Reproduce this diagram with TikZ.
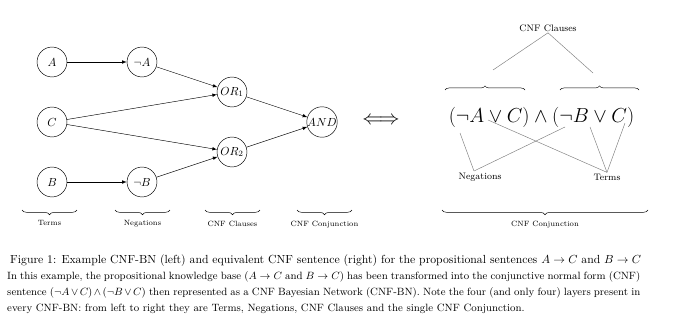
\documentclass[tikz,border=0pt]{standalone}
\usetikzlibrary{decorations.pathreplacing,arrows}
\begin{document}
\begin{tikzpicture}[x=0.853pt,y=-0.853pt,
  var/.style={circle,draw,thin,minimum size=25.5pt,inner sep=0pt},
  arr/.style={-latex,thin},
  bracelow/.style={decorate,decoration={brace,mirror,amplitude=4pt},thin},
  braceup/.style={decorate,decoration={brace,amplitude=3.5pt},thin},
  gline/.style={gray,thin},
  lab/.style={font=\fontsize{6.5}{8}\selectfont,inner sep=1pt},
  rlab/.style={font=\footnotesize,inner sep=1pt},
  txt/.style={anchor=base west,inner sep=0pt},
  ptxt/.style={anchor=base west,inner sep=0pt,font=\fontsize{9}{11}\selectfont}]
\useasboundingbox (0,0) rectangle (680,324);
% left network
\node[var] (A) at (52,62) {$A$};
\node[var] (nA) at (142,62) {$\neg A$};
\node[var] (C) at (52,122) {$C$};
\node[var] (B) at (52,182) {$B$};
\node[var] (nB) at (142,182) {$\neg B$};
\node[var] (OR1) at (232,92) {$OR_1$};
\node[var] (OR2) at (232,152) {$OR_2$};
\node[var] (AND) at (322,122) {$AND$};
\draw[arr] (A) -- (nA);
\draw[arr] (B) -- (nB);
\draw[arr] (nA) -- (OR1);
\draw[arr] (C) -- (OR1);
\draw[arr] (C) -- (OR2);
\draw[arr] (nB) -- (OR2);
\draw[arr] (OR1) -- (AND);
\draw[arr] (OR2) -- (AND);
% left braces
\coordinate (t1) at (22,210); \coordinate (t2) at (77,210);
\coordinate (n1) at (115,210); \coordinate (n2) at (170,210);
\coordinate (c1) at (205,210); \coordinate (c2) at (260,210);
\coordinate (j1) at (297,210); \coordinate (j2) at (352,210);
\draw[bracelow] (t1) -- (t2) node[midway,below=8pt,lab] {Terms};
\draw[bracelow] (n1) -- (n2) node[midway,below=8pt,lab] {Negations};
\draw[bracelow] (c1) -- (c2) node[midway,below=8pt,lab] {CNF Clauses};
\draw[bracelow] (j1) -- (j2) node[midway,below=8pt,lab] {CNF Conjunction};
% equivalence
\node (eq) at (381,121) {\LARGE$\Longleftrightarrow$};
% right formula
\node (F) at (541.5,117) {\fontsize{17}{20}\selectfont$(\neg A\lor C)\land(\neg B\lor C)$};
\coordinate (u1) at (445,90); \coordinate (u2) at (525,90);
\coordinate (v1) at (560,90); \coordinate (v2) at (639,90);
\draw[braceup] (u1) -- (u2);
\draw[braceup] (v1) -- (v2);
\node[rlab] (CC) at (548,28) {CNF Clauses};
\coordinate (b1) at (493,70); \coordinate (b2) at (593,73);
\draw[gline] (CC.south) -- (b1);
\draw[gline] (CC.south) -- (b2);
\node[rlab] (NEG) at (480,177) {Negations};
\node[rlab] (TER) at (607,177) {Terms};
\coordinate (negtop) at (474,171);
\coordinate (pa) at (460,133); \coordinate (pb) at (565,127);
\coordinate (pc) at (488,120); \coordinate (pd) at (590,127); \coordinate (pe) at (625,123);
\draw[gline] (negtop) -- (pa);
\draw[gline] (negtop) -- (pb);
\draw[gline] (TER.north) -- (pc);
\draw[gline] (TER.north) -- (pd);
\draw[gline] (TER.north) -- (pe);
\coordinate (w1) at (442,210); \coordinate (w2) at (648,210);
\draw[bracelow] (w1) -- (w2) node[midway,below=8pt,lab] {CNF Conjunction};
% caption and text
\node[txt] (cap) at (10,263.5) {Figure 1: Example CNF-BN (left) and equivalent CNF sentence (right) for the propositional sentences $A\to C$ and $B\to C$};
\node[ptxt] (l1) at (7,279) {\hbox to 540pt{In this example, the propositional knowledge base ($A\to C$ and $B\to C$) has been transformed into the conjunctive normal form (CNF)}};
\node[ptxt] (l2) at (7,295.5) {\hbox to 540pt{sentence $(\neg A\lor C)\land(\neg B\lor C)$ then represented as a CNF Bayesian Network (CNF-BN). Note the four (and only four) layers present in}};
\node[ptxt] (l3) at (7,311.5) {every CNF-BN: from left to right they are Terms, Negations, CNF Clauses and the single CNF Conjunction.};
\end{tikzpicture}
\end{document}
